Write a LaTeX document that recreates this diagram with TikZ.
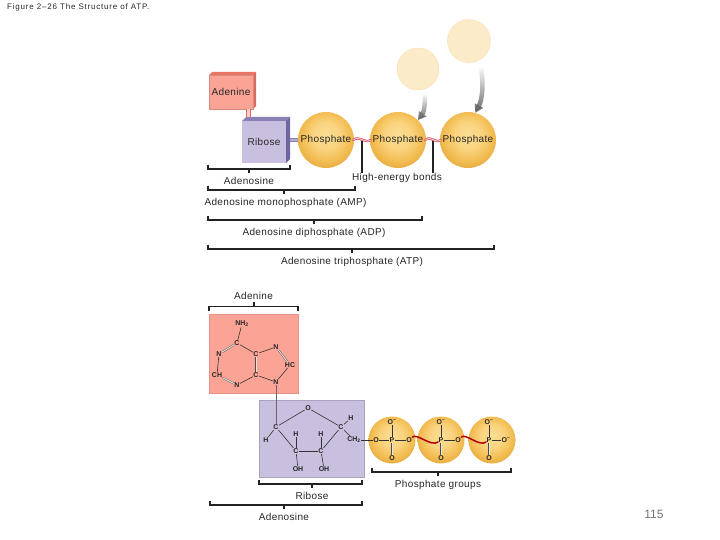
\documentclass[tikz,border=0pt]{standalone}
\usepackage{fontspec}
\setmainfont[LetterSpace=3.5]{Liberation Sans}
\newfontfamily\atomfont{Liberation Sans}
\newfontfamily\titlefont[LetterSpace=10]{Liberation Sans}
\usetikzlibrary{calc,fadings,arrows.meta}
\definecolor{adfront}{HTML}{FBA394}
\definecolor{adtop}{HTML}{E87565}
\definecolor{adside}{HTML}{D96A5C}
\definecolor{ribfront}{HTML}{C9BFDE}
\definecolor{ribtop}{HTML}{8A80B5}
\definecolor{ribside}{HTML}{6E66A0}
\definecolor{inkc}{HTML}{222222}
\definecolor{ghostc}{HTML}{FCEBC8}
\definecolor{wavec}{HTML}{D4606C}
\definecolor{waveinc}{HTML}{FFD5D5}
\pgfdeclareradialshading{ballshade}{\pgfpoint{0bp}{5bp}}{%
  rgb(0bp)=(0.98,0.87,0.58);
  rgb(12bp)=(0.98,0.83,0.50);
  rgb(22bp)=(0.95,0.74,0.32);
  rgb(29bp)=(0.90,0.66,0.25);
  rgb(33bp)=(0.85,0.62,0.25);
  rgb(50bp)=(0.85,0.62,0.25)}
\tikzset{
  lbl/.style={inner sep=0pt,yshift=-.8pt,font=\fontsize{10}{11}\selectfont,text=black!85},
  ball/.style={circle,shading=ballshade,minimum size=#1,inner sep=0pt,font=\fontsize{10}{11}\selectfont,text=black!85},
  ghost/.style={circle,fill=ghostc,draw=ghostc!85!orange,line width=.4pt,minimum size=#1,inner sep=0pt},
  brk/.style={draw=inkc,line width=1.3pt,line cap=butt},
  atom/.style={inner sep=.4pt,font=\atomfont\bfseries\fontsize{7}{8}\selectfont,text=black!85},
  bond/.style={draw=black!80,line width=.6pt},
  dbond/.style={draw=black!70,line width=.4pt,double=black!10,double distance=.9pt},
  wave/.style={draw=red!70!black,line width=1.5pt,line cap=round},
  topwave/.style={draw=wavec,line width=2.4pt,line cap=round},
  topwavein/.style={draw=waveinc,line width=.7pt},
  gradarrow/.style={line width=#1,draw=black!62,-{Triangle[width=9pt,length=8pt]},path fading=north,fading angle=0},
}
\newcommand{\brkt}[6]{% name, x1, x2, y, tick x, dir
  \coordinate (#1a) at (#2,#4);
  \coordinate (#1b) at (#3,#4);
  \coordinate (#1t) at (#5,#4);
  \draw[brk] ($(#1a)+(0,-#6*4.4)$) -- (#1a) -- (#1b) -- ($(#1b)+(0,-#6*4.4)$);
  \draw[brk] (#1t) -- ($(#1t)+(0,#6*4.4)$);
}
\newcommand{\phos}{\raisebox{-1pt}{Phosphate}}
\begin{document}
\begin{tikzpicture}[x=1pt,y=-1pt]
\useasboundingbox (0,0) rectangle (720,540);
\fill[white] (0,0) rectangle (720,540);

\node[lbl,anchor=west,font=\titlefont\fontsize{8}{9}\selectfont] (title) at (7,7) {Figure 2–26 The Structure of ATP.};

% top schematic
\fill[adtop] (209,75) -- (212,72) -- (256,72) -- (253,75) -- cycle;
\fill[adside] (253,75) -- (256,72) -- (256,106) -- (253,109) -- cycle;
\node[draw=adfront!85!black,line width=.3pt,fill=adfront,minimum width=44pt,minimum height=34pt,inner sep=0pt,font=\fontsize{10}{11}\selectfont,text=black!85] (adbox) at (231,92) {Adenine};
\fill[ribtop] (242,121) -- (246,117) -- (290,117) -- (286,121) -- cycle;
\fill[ribside] (286,121) -- (290,117) -- (290,159) -- (286,163) -- cycle;
\node[fill=ribfront,minimum width=44pt,minimum height=42pt,inner sep=0pt,font=\fontsize{10}{11}\selectfont,text=black!85] (ribbox) at (264,142) {Ribose};
\coordinate (adlink) at (248.5,109);
\coordinate (riblink) at (248.5,117.5);
\draw[draw=adside,line width=.5pt,double=adfront!55!white,double distance=3.6pt] (adlink) -- (riblink);

\node[ball=56pt] (p1) at (326,140) {\phos};
\node[ball=56pt] (p2) at (398,140) {\phos};
\node[ball=56pt] (p3) at (468,140) {\phos};
\node[ghost=42pt] (g1) at (418,69) {};
\node[ghost=43pt] (g2) at (469,41) {};

\coordinate (ribe) at (290,140);
\draw[draw=ribtop,line width=.6pt,double=ribfront!70!ribtop,double distance=2.8pt] (ribe) -- (p1.180);

\coordinate (a1s) at (425,95);
\coordinate (a2s) at (481,68);
\draw[gradarrow=4.5pt] (a1s) .. controls (425,105) and (424,112) .. (p2.45);
\draw[gradarrow=4.5pt] (a2s) .. controls (484,85) and (482,100) .. (p3.75);

\coordinate (w1) at ($(p1.east)!.5!(p2.west)$);
\coordinate (w2) at ($(p2.east)!.5!(p3.west)$);
\node[lbl] (hb) at (397,177.5) {High-energy bonds};
\draw[draw=inkc,line width=1.2pt] (w1) -- (w1 |- hb.north);
\draw[draw=inkc,line width=1.2pt] (w2) -- (w2 |- hb.north);
\foreach \s/\e in {p1.east/p2.west,p2.east/p3.west}{
  \draw[topwave] ($(\s)+(-1,0)$) .. controls +(6,-5) and +(-6,4) .. ($(\e)+(1,0)$);
  \draw[topwavein] ($(\s)+(-1,0)$) .. controls +(6,-5) and +(-6,4) .. ($(\e)+(1,0)$);
}

\brkt{bA}{208}{290}{169}{249}{1}
\node[lbl] (tadn) at (249,180) {Adenosine};
\brkt{bB}{208}{355}{190}{284}{1}
\node[lbl] (tamp) at (285.5,202.5) {Adenosine monophosphate (AMP)};
\brkt{bC}{208}{422}{220}{314}{1}
\node[lbl] (tadp) at (314,232.5) {Adenosine diphosphate (ADP)};
\brkt{bD}{208}{494}{249}{352}{1}
\node[lbl] (tatp) at (352,261.5) {Adenosine triphosphate (ATP)};

\node[lbl] (tade) at (253.5,295) {Adenine};
\brkt{bE}{209}{298}{306.5}{254}{-1}

% lower chemistry
\node[fill=adfront,minimum width=89pt,minimum height=79pt,inner sep=0pt,draw=adfront!90!black,line width=.4pt] (adchem) at (253.5,353.5) {};
\node[fill=ribfront,minimum width=105pt,minimum height=77pt,inner sep=0pt,draw=ribfront!85!black,line width=.6pt] (ribchem) at (311.5,438.5) {};

\node[ball=47pt] (c1) at (392,440) {};
\node[ball=47pt] (c2) at (441,440) {};
\node[ball=47pt] (c3) at (492,440) {};

\foreach \n/\x/\y/\t in {
 nh/242/324/NH\textsubscript{2}, ca/237/343/C, nb/219/354/N, ch/217/375/CH, nc/237/385/N, cb/256/375/C, cc/256/354/C, nd/276/347/N, hc/290/365/HC, ne/276/382/N,
 ro/308/408/O, r1/276/427/C, rh1/266/440/H, r2/296/451/C, rh2/296/434/H, roh2/298/469/OH, r3/321/451/C, rh3/321/434/H, roh3/324/469/OH, r4/341/427/C, rh4/351/418/H, rch/354/440/CH\textsubscript{2},
 oa/376/440/O, pa/392/440/P, ob/409/440/O, ota/392/422/O\textsuperscript{–}, oda/392/458/O,
 pb/441/440/P, oc/458/440/O, otb/441/422/O\textsuperscript{–}, odb/441/458/O,
 pc/489/440/P, od/506/440/O\textsuperscript{–}, otc/489/422/O\textsuperscript{–}, odc/489/458/O}
 {\node[atom] (\n) at (\x,\y) {\t};}

\foreach \a/\b in {nh/ca,nb/ch,nc/cb,cc/ca,cc/nd,hc/ne,ne/cb,
 ro/r1,ro/r4,r1/r2,r2/r3,r3/r4,r1/rh1,r2/rh2,r2/roh2,r3/rh3,r3/roh3,r4/rh4,r4/rch,rch/oa,oa/pa,pa/ob,pa/ota,
 pb/oc,pb/otb,pc/od,pc/otc}
 {\draw[bond] (\a) -- (\b);}
\draw[draw=black!60,line width=.4pt] (ne) -- (r1);
\foreach \a/\b in {ca/nb,ch/nc,cb/cc,nd/hc,pa/oda,pb/odb,pc/odc}
 {\draw[dbond] (\a) -- (\b);}
\draw[wave] (ob) .. controls +(8,-7) and +(-10,7) .. (pb);
\draw[wave] (oc) .. controls +(8,-7) and +(-10,7) .. (pc);

\brkt{bF}{372}{511}{472}{438}{1}
\node[lbl] (tpg) at (438,484) {Phosphate groups};
\brkt{bG}{259}{362}{484}{312}{1}
\node[lbl] (trib) at (312,495.5) {Ribose};
\brkt{bH}{210}{362}{505}{284}{1}
\node[lbl] (tadn2) at (284,516.5) {Adenosine};

\node[inner sep=0pt,text=black!55,font=\atomfont\fontsize{12}{14}\selectfont] (pg) at (654,514) {115};
\end{tikzpicture}
\end{document}
